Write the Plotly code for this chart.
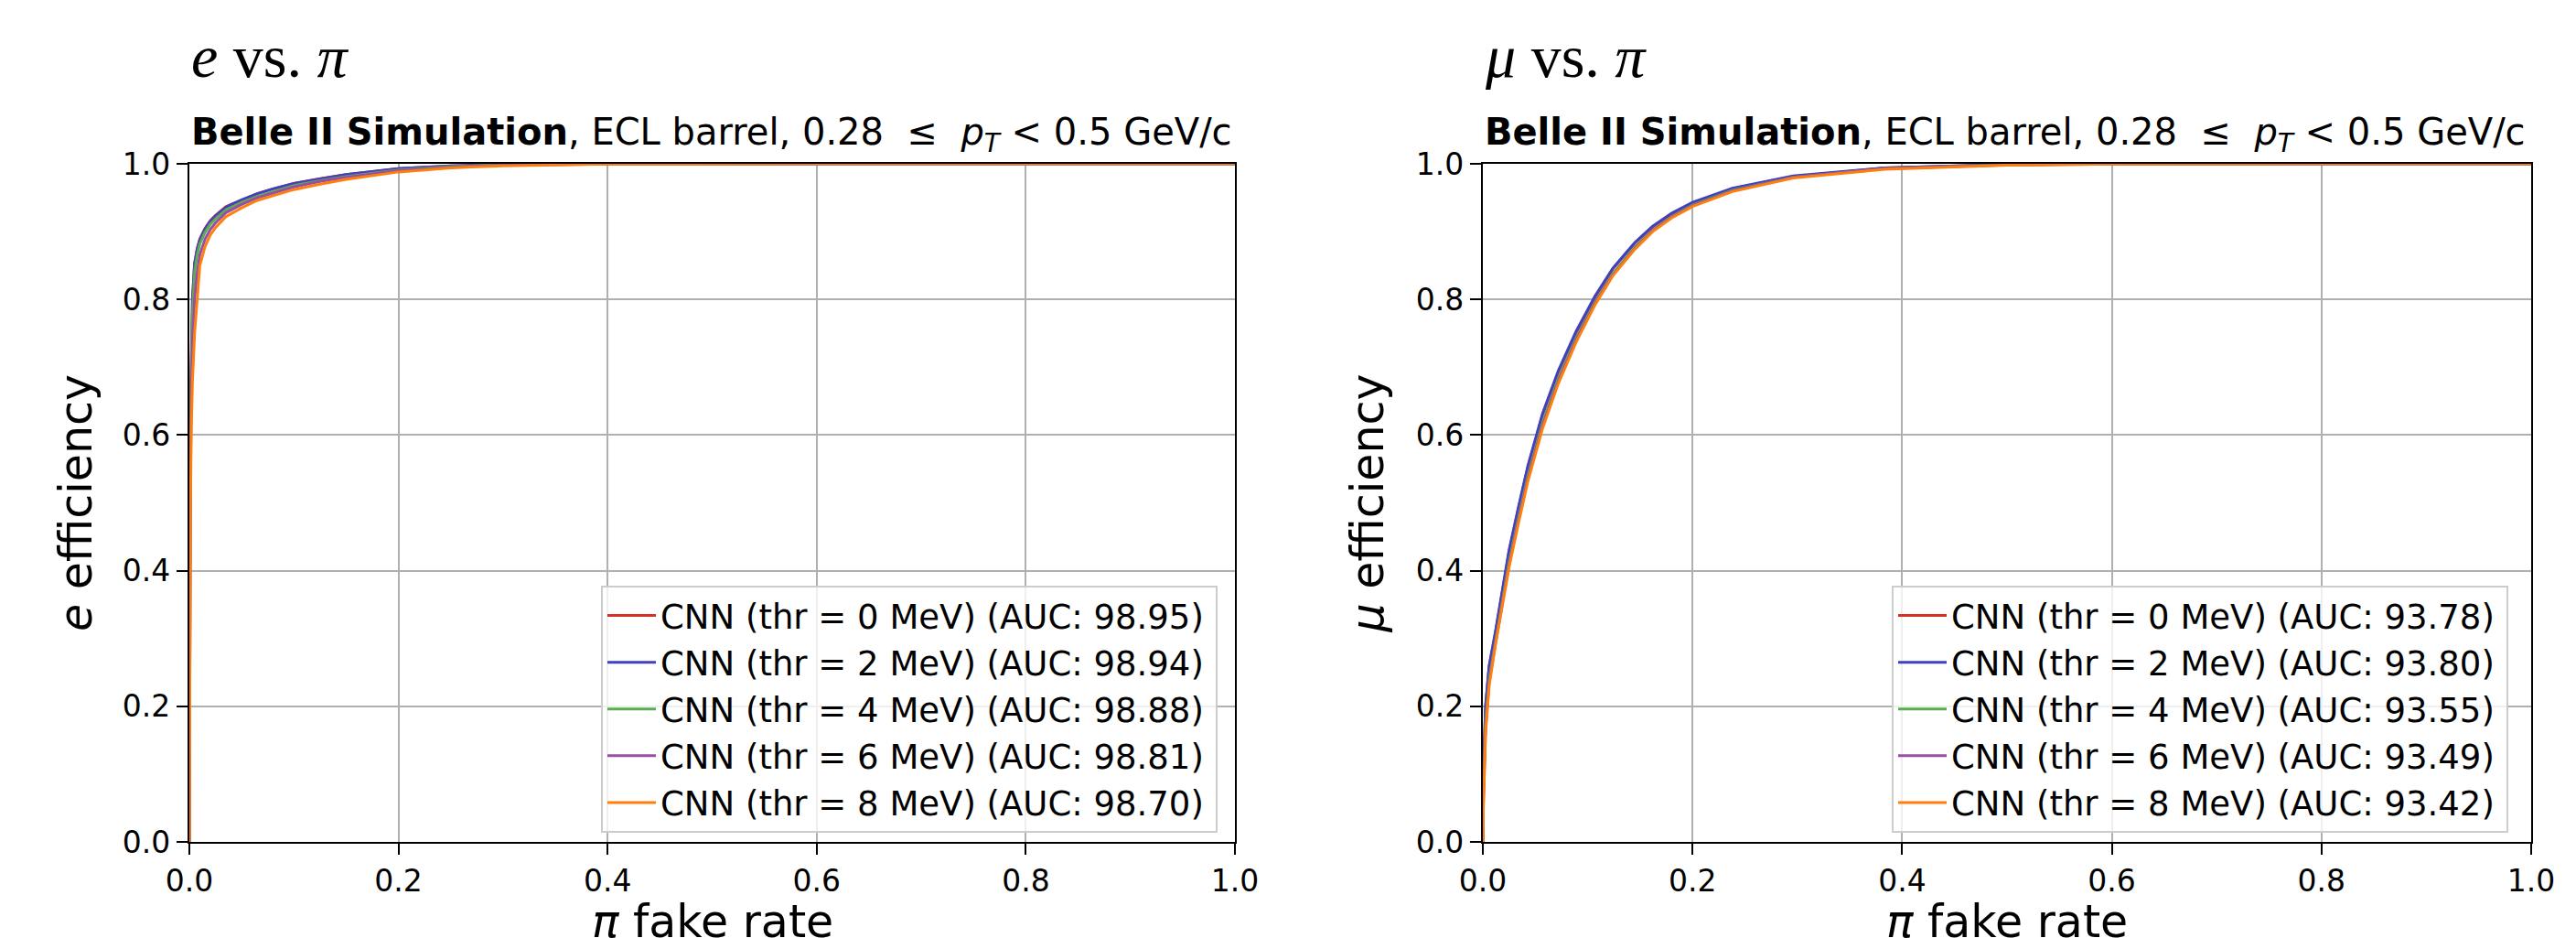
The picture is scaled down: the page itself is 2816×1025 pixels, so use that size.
import plotly.graph_objects as go

# ---------------- data ----------------
thr_labels = ["0", "2", "4", "6", "8"]
colors = ["#d73027", "#4040c0", "#5aae4f", "#984ea3", "#ff7f0e"]

# e vs pi : pi fake rate grid and e efficiency per threshold
e_fake = [0, 0.0002, 0.0005, 0.001, 0.002, 0.003, 0.005, 0.0075, 0.01, 0.015, 0.02, 0.025,
          0.035, 0.05, 0.065, 0.08, 0.1, 0.125, 0.15, 0.2, 0.25, 0.3, 0.4, 0.6, 1.0]
e_eff_thr0 = [0, 0.35, 0.50, 0.60, 0.73, 0.800, 0.853, 0.875, 0.889, 0.905, 0.916, 0.924,
              0.937, 0.947, 0.956, 0.963, 0.971, 0.978, 0.984, 0.993, 0.997, 0.9993, 0.9999, 1.0, 1.0]
e_eff_thr2 = [0, 0.36, 0.51, 0.61, 0.735, 0.802, 0.853, 0.874, 0.888, 0.904, 0.915, 0.923,
              0.936, 0.947, 0.956, 0.963, 0.971, 0.978, 0.984, 0.993, 0.997, 0.9993, 0.9999, 1.0, 1.0]
e_eff_thr4 = [0, 0.32, 0.47, 0.58, 0.71, 0.780, 0.840, 0.866, 0.882, 0.899, 0.911, 0.919,
              0.932, 0.943, 0.952, 0.959, 0.968, 0.975, 0.981, 0.991, 0.996, 0.9988, 0.9998, 1.0, 1.0]
e_eff_thr6 = [0, 0.27, 0.42, 0.54, 0.67, 0.740, 0.800, 0.840, 0.866, 0.889, 0.903, 0.913,
              0.928, 0.940, 0.950, 0.957, 0.966, 0.974, 0.980, 0.990, 0.995, 0.998, 0.9997, 1.0, 1.0]
e_eff_thr8 = [0, 0.20, 0.35, 0.50, 0.62, 0.680, 0.750, 0.800, 0.850, 0.878, 0.895, 0.906,
              0.922, 0.935, 0.946, 0.953, 0.962, 0.970, 0.977, 0.988, 0.994, 0.997, 0.9995, 1.0, 1.0]
e_auc = ["98.95", "98.94", "98.88", "98.81", "98.70"]

# mu vs pi
mu_fake = [0, 0.0005, 0.0026, 0.006, 0.012, 0.018, 0.025, 0.034, 0.043, 0.057, 0.072, 0.089,
           0.107, 0.124, 0.145, 0.162, 0.18, 0.2, 0.238, 0.296, 0.383, 0.5, 0.6, 0.8, 1.0]
mu_eff_thr0 = [0, 0.10, 0.20, 0.258, 0.308, 0.363, 0.428, 0.492, 0.553, 0.630, 0.693, 0.751,
               0.803, 0.845, 0.883, 0.907, 0.926, 0.942, 0.963, 0.981, 0.994, 0.999, 1.0, 1.0, 1.0]
mu_eff_thr2 = [0, 0.10, 0.20, 0.260, 0.310, 0.365, 0.430, 0.494, 0.555, 0.632, 0.695, 0.753,
               0.805, 0.846, 0.884, 0.908, 0.927, 0.943, 0.964, 0.982, 0.994, 0.999, 1.0, 1.0, 1.0]
mu_eff_thr4 = [0, 0.07, 0.175, 0.240, 0.295, 0.350, 0.413, 0.478, 0.540, 0.618, 0.683, 0.743,
               0.796, 0.838, 0.877, 0.902, 0.922, 0.939, 0.961, 0.980, 0.993, 0.9985, 0.9998, 1.0, 1.0]
mu_eff_thr6 = [0, 0.06, 0.165, 0.235, 0.292, 0.347, 0.409, 0.474, 0.536, 0.614, 0.679, 0.740,
               0.794, 0.836, 0.875, 0.901, 0.921, 0.938, 0.960, 0.980, 0.993, 0.9983, 0.9997, 1.0, 1.0]
mu_eff_thr8 = [0, 0.05, 0.160, 0.230, 0.290, 0.345, 0.405, 0.470, 0.532, 0.610, 0.676, 0.737,
               0.792, 0.835, 0.874, 0.900, 0.920, 0.937, 0.959, 0.979, 0.992, 0.998, 0.9995, 1.0, 1.0]
mu_auc = ["93.78", "93.80", "93.55", "93.49", "93.42"]

tick_vals = [0.0, 0.2, 0.4, 0.6, 0.8, 1.0]
tick_text = ["0.0", "0.2", "0.4", "0.6", "0.8", "1.0"]

# ---------------- figure ----------------
W, H = 2816, 1025
FONT = "DejaVu Sans"
fig = go.Figure()

e_series = [e_eff_thr0, e_eff_thr2, e_eff_thr4, e_eff_thr6, e_eff_thr8]
mu_series = [mu_eff_thr0, mu_eff_thr2, mu_eff_thr4, mu_eff_thr6, mu_eff_thr8]

for i, (thr, col) in enumerate(zip(thr_labels, colors)):
    fig.add_trace(go.Scatter(
        x=e_fake, y=e_series[i], mode="lines", line=dict(color=col, width=3),
        name=f"CNN (thr = {thr} MeV) (AUC: {e_auc[i]})&#8201;",
        xaxis="x", yaxis="y", legend="legend", legendgroup=f"e{i}"))
for i, (thr, col) in enumerate(zip(thr_labels, colors)):
    fig.add_trace(go.Scatter(
        x=mu_fake, y=mu_series[i], mode="lines", line=dict(color=col, width=3),
        name=f"CNN (thr = {thr} MeV) (AUC: {mu_auc[i]})&#8201;",
        xaxis="x2", yaxis="y2", legend="legend2", legendgroup=f"m{i}"))

dom_l = [207 / W, 1350 / W]
dom_r = [1621 / W, 2767 / W]
dom_y = [1 - 920 / H, 1 - 179 / H]

axis_common = dict(
    range=[0, 1], tickmode="array", tickvals=tick_vals, ticktext=tick_text,
    showgrid=True, gridcolor="#b0b0b0", gridwidth=2.2, zeroline=False,
    showline=True, linecolor="black", linewidth=2.2, mirror=True,
    ticks="outside", ticklen=12, tickwidth=2.2, tickcolor="black",
    tickfont=dict(family=FONT, size=33, color="black"), automargin=False,
)
title_font = dict(family=FONT, size=49, color="black")
legend_common = dict(
    y=1 - 910 / H, xanchor="right", yanchor="bottom",
    bgcolor="rgba(255,255,255,0.8)", bordercolor="#cccccc", borderwidth=2,
    font=dict(family=FONT, size=37, color="black"), tracegroupgap=0, itemwidth=53,
)

fig.update_layout(
    width=W, height=H,
    margin=dict(l=0, r=0, t=0, b=0, autoexpand=False),
    paper_bgcolor="white", plot_bgcolor="white",
    font=dict(family=FONT, color="black"),
    xaxis=dict(domain=dom_l, anchor="y", **axis_common),
    yaxis=dict(domain=dom_y, anchor="x",
               title=dict(text="<i>e</i> efficiency", font=title_font, standoff=18),
               **axis_common),
    xaxis2=dict(domain=dom_r, anchor="y2", **axis_common),
    yaxis2=dict(domain=dom_y, anchor="x2",
                title=dict(text="<i>μ</i> efficiency", font=title_font, standoff=20),
                **axis_common),
    legend=dict(x=1331 / W, **legend_common),
    legend2=dict(x=2742 / W, **legend_common),
    showlegend=True,
)

subtitle = ("<b>Belle II Simulation</b>, ECL barrel, 0.28 &nbsp;≤&nbsp; <i>p</i><sub><i>T</i></sub>"
            " &lt; 0.5 GeV/c")
for dom, head in [(dom_l, "<i>e</i> vs. <i>π</i>"), (dom_r, "<i>μ</i> vs. <i>π</i>")]:
    fig.add_annotation(x=dom[0], y=1 - 61 / H, xref="paper", yref="paper",
                       xanchor="left", yanchor="middle", showarrow=False, text=head,
                       font=dict(family="Liberation Serif", size=66, color="black"))
    fig.add_annotation(x=dom[0], y=1 - 147 / H, xref="paper", yref="paper",
                       xanchor="left", yanchor="middle", showarrow=False, text=subtitle,
                       font=dict(family=FONT, size=40, color="black"))
    # x-axis titles (placed as annotations so they can run past the bottom edge as in the reference)
    fig.add_annotation(x=(dom[0] + dom[1]) / 2, y=1 - 977 / H, xref="paper", yref="paper",
                       xanchor="center", yanchor="top", showarrow=False,
                       text="<i>π</i> fake rate", font=title_font)

fig.write_html("out.html", config={"displayModeBar": False},
               post_script="document.body.style.margin='0px';")
